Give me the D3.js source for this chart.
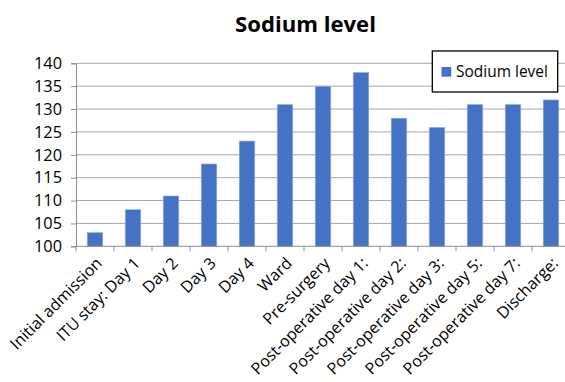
<!DOCTYPE html>
<html><head><meta charset="utf-8">
<script src="https://cdn.jsdelivr.net/npm/d3@7"></script>
<style>body{margin:0;background:#fff}svg{display:block}</style>
</head><body>
<script>
const categories = ["Initial admission","ITU stay: Day 1","Day 2","Day 3","Day 4","Ward","Pre-surgery","Post-operative day 1:","Post-operative day 2:","Post-operative day 3:","Post-operative day 5:","Post-operative day 7:","Discharge:"];
const sodium = [103,108,111,118,123,131,135,138,128,126,131,131,132];
const yTicks = [100,105,110,115,120,125,130,135,140];
const seriesName = "Sodium level";
const title = "Sodium level";

const W = 565, H = 382;
const font = "'Open Sans', sans-serif";
const svg = d3.select("body").append("svg").attr("width", W).attr("height", H);

const x = d3.scaleBand().domain(categories).range([76, 570]).paddingInner(0.59).paddingOuter(0.295);
const y = d3.scaleLinear().domain([100, 140]).range([246.3, 63.3]);

function fit(sel, target) {
  const w = sel.node().getComputedTextLength();
  const fs = parseFloat(sel.attr("font-size"));
  return fs * target / w;
}

// gridlines
svg.append("g").selectAll("line").data(yTicks.slice(1)).join("line")
  .attr("x1", 76).attr("x2", 570).attr("y1", d => y(d)).attr("y2", d => y(d))
  .attr("stroke", "#a6a6a6").attr("stroke-width", 1);

// y axis
const yAxis = svg.append("g").attr("transform", "translate(76,0)")
  .call(d3.axisLeft(y).tickValues(yTicks).tickSize(5).tickPadding(9));
yAxis.select(".domain").attr("stroke", "#8c8c8c");
yAxis.selectAll(".tick line").attr("stroke", "#8c8c8c");
const yt = yAxis.selectAll(".tick text").attr("font-family", font).attr("font-size", 15).attr("fill", "#000");
const yfs = fit(yAxis.select(".tick text"), 28);
yt.attr("font-size", yfs);

// bars
svg.append("g").selectAll("rect").data(sodium).join("rect")
  .attr("x", (d, i) => x(categories[i]))
  .attr("width", x.bandwidth())
  .attr("y", d => y(d))
  .attr("height", d => y(100) - y(d))
  .attr("fill", "#4472c4")
  .attr("stroke", "#9fb5e0").attr("stroke-width", 0.6);

// x axis line + boundary ticks
const bounds = categories.map(c => x(c) - x.step() * 0.295).concat([570]);
svg.append("line").attr("x1", 76).attr("x2", 570).attr("y1", y(100)).attr("y2", y(100)).attr("stroke", "#8c8c8c");
svg.append("g").selectAll("line").data(bounds).join("line")
  .attr("x1", d => d).attr("x2", d => d).attr("y1", y(100)).attr("y2", y(100) + 5)
  .attr("stroke", "#8c8c8c");

// x labels
const xl = svg.append("g").selectAll("text").data(categories).join("text")
  .attr("font-family", font).attr("font-size", 15).attr("text-anchor", "end")
  .text(d => d);
const xfs = fit(d3.select(xl.nodes()[0]), 122);
xl.attr("font-size", xfs)
  .attr("transform", d => `translate(${x(d) + x.bandwidth() / 2 + 8},${y(100) + 18}) rotate(-45)`);

// title
const t = svg.append("text").attr("x", 305.5).attr("y", 32).attr("text-anchor", "middle")
  .attr("font-family", font).attr("font-weight", "bold").attr("font-size", 20).text(title);
t.attr("font-size", fit(t, 141));

// legend
svg.append("rect").attr("x", 432.3).attr("y", 51).attr("width", 125.4).attr("height", 41)
  .attr("fill", "#fff").attr("stroke", "#000").attr("stroke-width", 1.3);
svg.append("rect").attr("x", 441.5).attr("y", 67).attr("width", 9.7).attr("height", 9.7).attr("fill", "#4472c4");
const lt = svg.append("text").attr("x", 456).attr("y", 76.5).attr("font-family", font).attr("font-size", 14).text(seriesName);
lt.attr("font-size", fit(lt, 92));
</script>
</body></html>
